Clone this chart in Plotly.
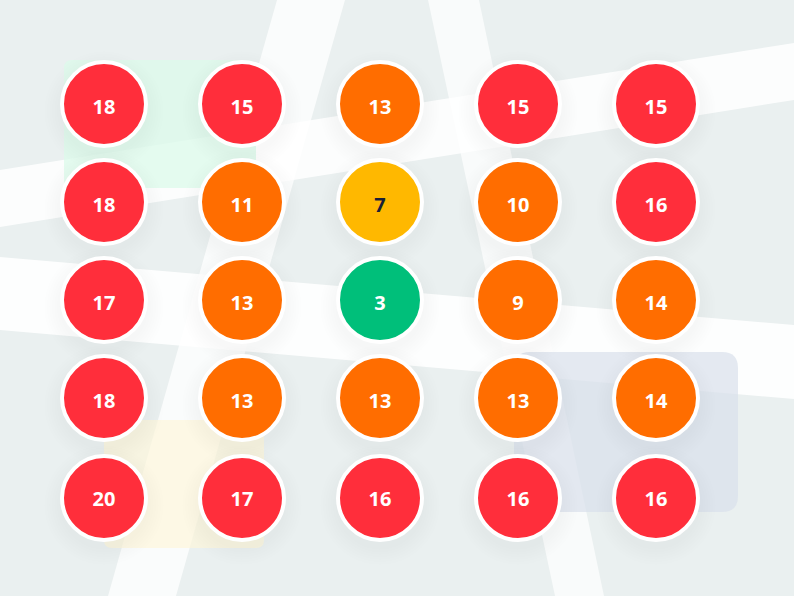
import plotly.graph_objects as go

W, H = 794, 596
values = [
    [18, 15, 13, 15, 15],
    [18, 11, 7, 10, 16],
    [17, 13, 3, 9, 14],
    [18, 13, 13, 13, 14],
    [20, 17, 16, 16, 16],
]
column_centres = [104, 242, 380, 518, 656]
row_centres = [104, 202, 300, 398, 498]
label_rows = [109, 207, 305, 403, 501]

BG = "#EAF0F0"
RED, ORANGE, YELLOW, GREEN = "#FF2E3B", "#FF6D00", "#FFB800", "#00BF7A"


def colour(v):
    if v >= 15:
        return RED
    if v >= 9:
        return ORANGE
    if v >= 5:
        return YELLOW
    return GREEN


roads = [
    ("M0,170 L794,43 L794,100 L0,227 Z", "rgba(255,255,255,0.86)"),
    ("M0,257 L794,325 L794,399 L0,330 Z", "rgba(255,255,255,0.9)"),
    ("M277,0 L345,0 L176,596 L108,596 Z", "rgba(255,255,255,0.76)"),
    ("M428,0 L479,0 L604,596 L555,596 Z", "rgba(255,255,255,0.7)"),
]


def rounded(x0, y0, x1, y1, r):
    return (
        f"M{x0+r},{y0} L{x1-r},{y0} Q{x1},{y0} {x1},{y0+r} L{x1},{y1-r} Q{x1},{y1} {x1-r},{y1} "
        f"L{x0+r},{y1} Q{x0},{y1} {x0},{y1-r} L{x0},{y0+r} Q{x0},{y0} {x0+r},{y0} Z"
    )


zones = [
    (rounded(64, 60, 256, 188, 8), "rgba(220,250,235,0.78)"),
    (rounded(104, 420, 264, 548, 8), "rgba(254,246,218,0.68)"),
    (rounded(514, 352, 738, 512, 16), "rgba(218,224,236,0.72)"),
]

shapes = []
for path, fill in roads + zones:
    shapes.append(dict(type="path", path=path, fillcolor=fill, line=dict(width=0), layer="below",
                       xref="x", yref="y"))

xs, ys, lys, cols, labels, text_cols = [], [], [], [], [], []
for r, row in enumerate(values):
    for c, v in enumerate(row):
        xs.append(column_centres[c])
        ys.append(row_centres[r])
        lys.append(label_rows[r])
        cols.append(colour(v))
        labels.append(str(v))
        text_cols.append("#1A1F36" if v < 9 and v >= 5 else "#FFFFFF")

fig = go.Figure()
# soft drop shadow, built from stacked translucent discs
for size in (120, 115, 110, 105, 100, 95, 90):
    fig.add_trace(go.Scatter(
        x=xs, y=[y + 7 for y in ys], mode="markers", hoverinfo="skip", showlegend=False,
        marker=dict(size=size, color="rgba(30,50,60,0.0035)", line=dict(width=0)),
    ))
fig.add_trace(go.Scatter(
    x=xs, y=ys, mode="markers", showlegend=False, hoverinfo="skip",
    marker=dict(size=84, color=cols, line=dict(color="#FFFFFF", width=4)),
))
fig.add_trace(go.Scatter(
    x=xs, y=lys, mode="text", text=labels, showlegend=False, hoverinfo="skip",
    textposition="middle center",
    textfont=dict(family="Noto Sans", size=20, color=text_cols, weight=700),
))

fig.update_layout(
    width=W, height=H, margin=dict(l=0, r=0, t=0, b=0),
    paper_bgcolor=BG, plot_bgcolor=BG, shapes=shapes,
    xaxis=dict(range=[0, W], visible=False, fixedrange=True),
    yaxis=dict(range=[H, 0], visible=False, fixedrange=True),
)
fig.write_html(
    "out.html",
    config={"displayModeBar": False},
    post_script="document.body.style.margin='0';document.body.style.overflow='hidden';",
)
